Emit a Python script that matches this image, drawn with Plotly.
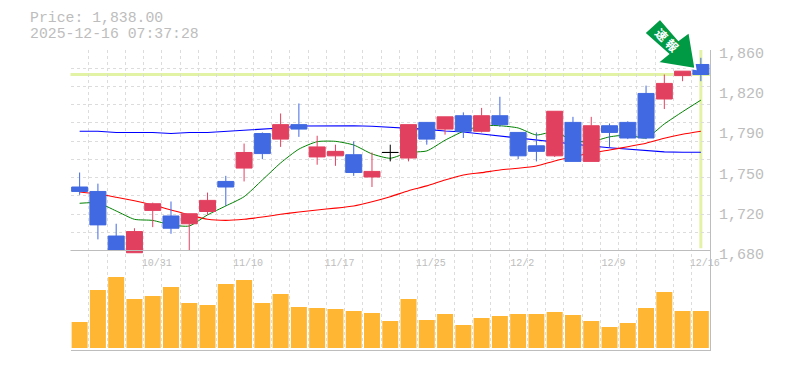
import plotly.graph_objects as go

# the page body adds an 8px margin around the figure, so the figure is sized and placed to compensate
OFF = 8
W, H = 785 - OFF, 370 - OFF
PL, PR, PT, PB = 70.5 - OFF, 710.0 - OFF, 50.0 - OFF, 350.0 - OFF   # frame in px
SPLIT = 254.0 - OFF
AXIS_Y = 250.5 - OFF

opens  = [1737,1733,1693,1678,1716,1711,1704,1715,1742,1754,1785,1780,1793,1764,1765,1766,1746,1768,1763,1795,1789,1801,1787,1801,1786,1774,1765,1795,1760,1792,1795,1821,1816,1837,1847]
highs  = [1750,1740,1704,1700,1723,1724,1713,1732,1747,1776,1786,1803,1812,1783,1775,1778,1768,1775,1793,1795,1800,1804,1808,1818,1786,1786,1805,1800,1800,1794,1796,1828,1838,1841,1853]
lows   = [1730,1690,1680,1678,1701,1695,1680,1712,1720,1742,1762,1773,1782,1757,1756,1747,1737,1760,1760,1775,1784,1781,1786,1791,1762,1760,1764,1760,1760,1773,1780,1780,1807,1832,1832]
closes = [1733,1703,1680,1697,1722,1700,1713,1725,1737,1768,1767,1793,1789,1773,1769,1750,1751,1768,1793,1780,1800,1787,1801,1793,1765,1769,1805,1760,1792,1786,1781,1781,1830,1841,1838]
ma_short = [1722.4,1722.7,1715.5,1708,1707,1703,1702,1712,1720,1728.3,1743.3,1758.6,1771,1777.7,1778,1774.7,1766.7,1762.8,1768,1769.4,1779,1787,1792,1792,1790,1783.7,1786.7,1778.6,1777.7,1782,1783.7,1781,1793.6,1804.6,1815]
ma_mid   = [1732.5,1730.7,1727.8,1724.7,1720.9,1716.4,1711.9,1708,1707,1708,1710,1712.5,1714.6,1716.4,1718,1720,1723.8,1728.3,1733.7,1738,1743.3,1747.8,1749.9,1752.3,1753.8,1755.9,1760.4,1764.2,1767.6,1770.2,1773.2,1776.3,1780.8,1784.3,1787]
ma_long  = [1787,1787,1786,1786,1786,1785,1786,1786,1787,1788,1788.8,1790,1791.8,1792,1792,1792,1791.5,1790.6,1790,1788.7,1787.3,1786.4,1784.6,1782.8,1781,1779.2,1777,1775.6,1773.8,1772.3,1771,1769.4,1768.5,1768.2,1768.2]
volumes  = [26,58,71,49,52,61,45,43,64,68,45,54,41,40,39,37,35,27,49,28,34,23,30,32,34,34,36,33,27,21,25,40,56,37,37]
date_ticks  = [4,9,14,19,24,29,34]
date_labels = ["10/31","11/10","11/17","11/25","12/2","12/9","12/16"]
price_ticks  = [1860,1824,1788,1752,1716,1680]
price_labels = ["1,860","1,820","1,790","1,750","1,720","1,680"]
last_price = 1838
title_lines = ["Price: 1,838.00", "2025-12-16 07:37:28"]
badge_text = "速 報"

UP, DOWN, GREY, GRID, MARK = "#e2405f", "#4169e1", "#bdbdbd", "#dcdcdc", "#e3f3a5"
n = len(closes)
idx = list(range(n))
px_per_price = (AXIS_Y - PT) / 180
y_low = 1680 - (SPLIT - AXIS_Y) / px_per_price
price_range = [y_low, 1860]
grid_x = [i - 0.5 for i in range(n + 1)]
grid_y = [1680 + i * 180 / 11 for i in range(12)]

px = lambda v: (v - OFF) / W
py = lambda v: 1 - (v - OFF) / H
dom_x = lambda v: v / W
dom_y = lambda v: 1 - v / H

fig = go.Figure()
for vals, col, w, shp in [(ma_long, "#0000ff", 1.1, "linear"), (ma_mid, "#ff0000", 1.1, "spline"), (ma_short, "#008000", 1, "spline")]:
    line = dict(color=col, width=w, shape=shp)
    if shp == "spline":
        line["smoothing"] = 0.6
    fig.add_trace(go.Scatter(x=idx, y=vals, mode="lines", line=line, xaxis="x", yaxis="y", showlegend=False))

dn = [i for i in idx if closes[i] != opens[i]]
fig.add_trace(go.Candlestick(
    x=dn, open=[opens[i] for i in dn], high=[highs[i] for i in dn], low=[lows[i] for i in dn], close=[closes[i] for i in dn],
    increasing=dict(line=dict(color=UP, width=1), fillcolor=UP),
    decreasing=dict(line=dict(color=DOWN, width=1), fillcolor=DOWN),
    whiskerwidth=0, xaxis="x", yaxis="y3", showlegend=False))
doji = [i for i in idx if closes[i] == opens[i]]
fig.add_trace(go.Candlestick(
    x=doji, open=[opens[i] for i in doji], high=[highs[i] for i in doji], low=[lows[i] for i in doji], close=[closes[i] for i in doji],
    increasing=dict(line=dict(color="#000000", width=1), fillcolor="#000000"),
    decreasing=dict(line=dict(color="#000000", width=1), fillcolor="#000000"),
    whiskerwidth=0, xaxis="x", yaxis="y3", showlegend=False))
fig.add_trace(go.Bar(x=idx, y=volumes, marker=dict(color="#ffb733", line_width=0), width=0.875, xaxis="x2", yaxis="y2", showlegend=False))

x_common = dict(range=[-0.5, n - 0.5], showgrid=False, zeroline=False, fixedrange=True,
                minor=dict(tickvals=grid_x, showgrid=True, gridcolor=GRID, griddash="3px,3px", gridwidth=1, ticks=""),
                rangeslider=dict(visible=False))
fig.update_layout(
    width=W, height=H, autosize=False, paper_bgcolor="white", plot_bgcolor="white",
    margin=dict(l=0, r=0, t=0, b=0, pad=0, autoexpand=False), boxgap=0.125, boxgroupgap=0, showlegend=False,
    font=dict(family="Liberation Mono", color=GREY),
    xaxis=dict(x_common, domain=[dom_x(PL), dom_x(PR)], anchor="y", tickmode="array", tickvals=date_ticks, ticktext=date_labels,
               tickfont=dict(size=10, color=GREY), ticks="", ticklabelstandoff=1, ticklabelshift=4),
    xaxis2=dict(x_common, domain=[dom_x(PL), dom_x(PR)], anchor="y2", showticklabels=False, ticks="", showline=True, linecolor=GREY, linewidth=1),
    yaxis=dict(domain=[dom_y(SPLIT), dom_y(PT)], range=price_range, side="right", anchor="x", showgrid=False, zeroline=False, fixedrange=True,
               tickmode="array", tickvals=price_ticks, ticktext=price_labels, tickfont=dict(size=15, color=GREY), ticks="",
               ticklabelstandoff=5, ticklabelshift=3, showline=True, linecolor=GREY, linewidth=1,
               minor=dict(tickvals=grid_y, showgrid=True, gridcolor=GRID, griddash="3px,3px", gridwidth=1, ticks="")),
    yaxis2=dict(domain=[dom_y(PB), dom_y(SPLIT)], range=[-2, 94], side="right", anchor="x2", showgrid=False, zeroline=False, fixedrange=True,
                showticklabels=False, ticks="", showline=True, linecolor=GREY, linewidth=1),
    yaxis3=dict(overlaying="y", range=price_range, side="right", anchor="x", showgrid=False, zeroline=False, showticklabels=False, ticks="", fixedrange=True),
)

shapes = [
    dict(type="line", xref="x domain", yref="y", x0=0, x1=1, y0=1680, y1=1680, line=dict(color=GREY, width=1), layer="above"),
    dict(type="line", xref="x domain", yref="y", x0=0, x1=1, y0=last_price, y1=last_price, line=dict(color=MARK, width=3), layer="below"),
    dict(type="line", xref="x", yref="y", x0=n - 1, x1=n - 1, y0=1682, y1=1860, line=dict(color=MARK, width=3), layer="below"),
    dict(type="path", xref="paper", yref="paper", layer="above", fillcolor="#009944", line=dict(color="white", width=2),
         path="M {} {} L {} {} L {} {} L {} {} L {} {} L {} {} L {} {} Z".format(*[
             c for p in [(644.3, 33), (660, 18.7), (678.5, 40), (689.3, 32), (695.5, 69), (657.3, 62.7), (668, 54)]
             for c in (px(p[0]), py(p[1]))])),
    dict(type="rect", xref="paper", yref="paper", layer="above", x0=px(651), x1=px(681), y0=py(26), y1=py(56),
         fillcolor="rgba(0,0,0,0)", line=dict(width=0),
         label=dict(text="<b>" + badge_text + "</b>", textangle=45, textposition="middle center",
                    font=dict(size=12, color="#ffffff", family="Noto Sans CJK JP"))),
]
fig.update_layout(shapes=shapes)
fig.add_annotation(xref="paper", yref="paper", x=px(28), y=py(18), text=title_lines[0], showarrow=False, xanchor="left", yanchor="middle",
                   font=dict(size=14.8, color=GREY, family="Liberation Mono"))
fig.add_annotation(xref="paper", yref="paper", x=px(28), y=py(34), text=title_lines[1], showarrow=False, xanchor="left", yanchor="middle",
                   font=dict(size=14.8, color=GREY, family="Liberation Mono"))
fig.write_html("out.html")
